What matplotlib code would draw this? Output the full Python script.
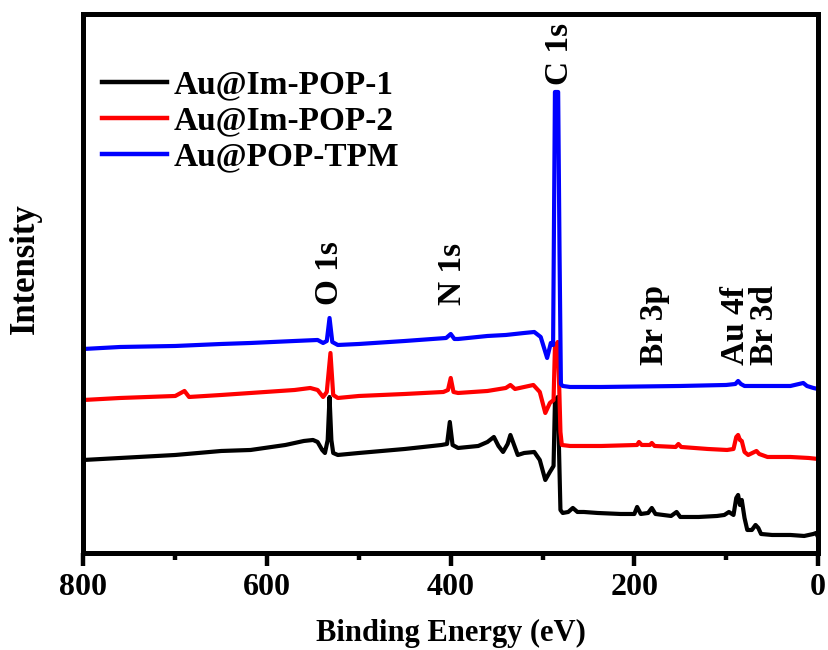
import matplotlib
matplotlib.use('Agg')
from matplotlib import pyplot as plt
from matplotlib.ticker import MultipleLocator

plt.rcParams['font.family'] = ['Liberation Serif', 'DejaVu Serif']
plt.rcParams['font.weight'] = 'bold'

# binding energy (eV) and intensity (a.u.)
be_pop1 = [800, 760, 700, 650, 618, 580, 560, 550, 545, 540, 537, 534, 532, 530, 528, 523,
           500, 450, 410, 404, 401, 398, 392, 370, 360, 353, 348, 343, 338, 335, 331, 327,
           320, 309, 303, 297, 292, 288, 286.5, 283.5, 282, 280.5, 278, 272, 267, 262, 255,
           240, 215, 200, 197, 193, 185, 181, 177, 160, 154, 150, 130, 110, 102, 97, 92,
           89, 87, 85, 83, 80, 77, 72, 68, 65, 62, 50, 30, 15, 5, 2, 0]
int_pop1 = [92, 94, 97, 101, 102, 107, 111, 112, 110, 102, 99, 112, 155, 112, 99, 97,
            99, 103, 107, 108, 130, 107, 104, 106, 110, 115, 106, 100, 108, 117, 107, 97,
            99, 100, 92, 72, 80, 86, 150, 155, 100, 42, 39, 40, 44, 40, 40,
            39, 38, 38, 45, 38, 39, 44, 38, 36, 40, 35, 35, 36, 37, 40, 37,
            54, 57, 47, 52, 34, 22, 22, 27, 24, 18, 17, 17, 16, 18, 19, 15]

be_pop2 = [800, 760, 700, 690, 685, 650, 618, 570, 553, 545, 539, 535, 531, 528, 523,
           500, 450, 408, 403, 400, 397, 392, 360, 340, 335, 330, 320, 310, 303, 297, 292,
           288, 286.5, 283.5, 282, 280.5, 279, 270, 236, 197, 195, 192, 183, 181, 178, 155,
           152, 149, 120, 99, 92, 89, 87, 85, 83, 80, 76, 67, 64, 55, 30, 10, 0]
int_pop2 = [152, 154, 156, 161, 155, 157, 159, 162, 164, 162, 155, 160, 199, 157, 154,
            156, 158, 160, 162, 174, 160, 159, 161, 164, 167, 163, 165, 167, 160, 139, 149,
            152, 205, 210, 170, 120, 107, 106, 106, 107, 110, 107, 107, 109, 106, 105,
            108, 105, 103, 102, 103, 115, 117, 112, 111, 100, 97, 101, 98, 95, 95, 94, 93]

be_tpm = [800, 760, 700, 650, 618, 570, 545, 539, 535, 532, 529, 523, 500, 450, 405, 400,
          396, 392, 360, 340, 320, 309, 302, 295, 291, 288.5, 286.5, 283, 281.5, 280, 278, 270,
          236, 150, 100, 90, 87, 84, 80, 30, 16, 12, 5, 0]
int_tpm = [203, 205, 206, 208, 209, 211, 212, 209, 211, 234, 210, 207, 208, 211, 214, 218,
           213, 213, 216, 217, 219, 220, 215, 194, 209, 207, 460, 460, 300, 168, 166, 165,
           165, 166, 167, 168, 171, 168, 166, 166, 169, 166, 164, 163]

labels = ['Au@Im-POP-1', 'Au@Im-POP-2', 'Au@POP-TPM']
colors = ['black', 'red', 'blue']

peak_names = ['C 1s', 'O 1s', 'N 1s', 'Br 3p', 'Au 4f', 'Br 3d']
peak_be = [281, 531.5, 398.5, 178.5, 90, 58.5]
peak_y = [467, 247, 247, 187, 187, 187]

fig = plt.figure(figsize=(8.29, 6.5), dpi=100)
ax = fig.add_axes([0.1007, 0.1485, 0.886, 0.8292])

ax.plot(be_pop1, int_pop1, color=colors[0], linewidth=3, label=labels[0])
ax.plot(be_pop2, int_pop2, color=colors[1], linewidth=3, label=labels[1])
ax.plot(be_tpm, int_tpm, color=colors[2], linewidth=3, label=labels[2])

for name, x, y in zip(peak_names, peak_be, peak_y):
    ax.text(x, y, name, rotation=90, ha='center', va='bottom', fontsize=24, fontweight='bold')

ax.set_xlim(800, 0)
ax.set_ylim(-1.5, 537.5)
ax.xaxis.set_major_locator(MultipleLocator(200))
ax.xaxis.set_minor_locator(MultipleLocator(100))
ax.set_yticks([])
ax.tick_params(axis='x', which='major', direction='out', length=9, width=3.2, pad=5, labelsize=23)
ax.tick_params(axis='x', which='minor', direction='out', length=5, width=3.2)
for lab in ax.get_xticklabels():
    lab.set_fontweight('bold')
for sp in ax.spines.values():
    sp.set_linewidth(3.6)

ax.set_xlabel('Binding Energy (eV)', fontsize=22, fontweight='bold')
ax.xaxis.set_label_coords(0.5, -0.122)
ax.set_ylabel('Intensity', fontsize=25, fontweight='bold')
ax.yaxis.set_label_coords(-0.0565, 0.529)

leg = ax.legend(loc='center left', bbox_to_anchor=(0.0252, 0.8024), frameon=False,
                fontsize=24, handlelength=1.95, handletextpad=0.2, labelspacing=0.15,
                borderpad=0, borderaxespad=0)
for line in leg.get_lines():
    line.set_linewidth(3.2)
for t in leg.get_texts():
    t.set_fontweight('bold')

fig.savefig('out.png', dpi=100)
